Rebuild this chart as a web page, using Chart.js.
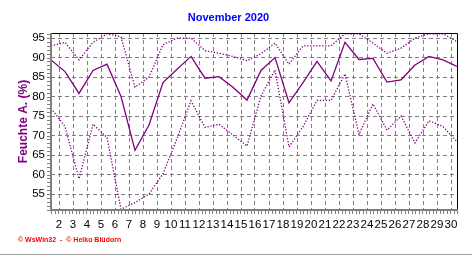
<!DOCTYPE html>
<html>
<head>
<meta charset="utf-8">
<script src="https://cdn.jsdelivr.net/npm/chart.js@4"></script>
<style>
  html, body { margin: 0; padding: 0; background: #fff; }
  #wrap { width: 472px; height: 255px; position: relative; }
</style>
</head>
<body>
<div id="wrap"><canvas id="humChart"></canvas></div>
<script>
var days = [1,2,3,4,5,6,7,8,9,10,11,12,13,14,15,16,17,18,19,20,21,22,23,24,25,26,27,28,29,30];
var meanHum = [89.4,86.4,80.8,86.7,88.3,80.0,66.2,72.7,83.6,87.0,90.3,84.7,85.1,82.4,79.1,86.7,90.0,78.4,83.6,89.0,84.0,93.9,89.5,89.8,83.7,84.3,88.1,90.3,89.4,87.7];
var maxHum = [93.0,93.9,89.4,93.9,96.1,95.3,82.4,85.0,93.3,95.0,95.0,91.8,91.1,90.3,89.2,91.0,93.7,88.3,93.0,93.0,93.0,96.1,96.1,93.7,91.1,92.4,95.0,96.1,96.1,94.1];
var minHum = [77.0,72.3,58.9,72.9,69.5,51.1,52.8,55.0,60.2,69.2,78.9,72.1,72.9,70.1,67.3,80.2,86.8,67.1,72.3,79.0,79.0,85.8,70.3,78.1,71.4,75.0,68.1,73.8,72.3,68.4];
var xTickLabels = ['2','3','4','5','6','7','8','9','10','11','12','13','14','15','16','17','18','19','20','21','22','23','24','25','26','27','28','29','30'];
var yTicks = [55,60,65,70,75,80,85,90,95];

var purple = '#800080';
var gridGray = '#808080';

function pts(arr) {
  return days.map(function (d, i) { return { x: d, y: arr[i] }; });
}

// frame, minor ticks and footer text
var framePlugin = {
  id: 'frame',
  afterDraw: function (chart) {
    var ctx = chart.ctx, a = chart.chartArea;
    var xs = chart.scales.x, ys = chart.scales.y;
    ctx.save();
    // black top / right
    ctx.strokeStyle = '#000';
    ctx.lineWidth = 1;
    ctx.beginPath();
    ctx.moveTo(a.left, a.top + 0.5);
    ctx.lineTo(a.right + 0.5, a.top + 0.5);
    ctx.lineTo(a.right + 0.5, a.bottom);
    ctx.stroke();
    // gray left / bottom
    ctx.strokeStyle = gridGray;
    ctx.lineWidth = 2;
    ctx.beginPath();
    ctx.moveTo(a.left, a.top);
    ctx.lineTo(a.left, a.bottom);
    ctx.lineTo(a.right + 1, a.bottom);
    ctx.stroke();
    // minor ticks
    ctx.lineWidth = 1;
    ctx.beginPath();
    for (var v = 51; v <= 96; v++) {
      var py = Math.round(ys.getPixelForValue(v)) + 0.5;
      ctx.moveTo(a.left - 4, py);
      ctx.lineTo(a.left, py);
    }
    for (var d = 1; d <= 30; d += 0.25) {
      var px = Math.round(xs.getPixelForValue(d)) + 0.5;
      ctx.moveTo(px, a.bottom);
      ctx.lineTo(px, a.bottom + 4);
    }
    ctx.stroke();
    // footer
    ctx.fillStyle = '#ff0000';
    ctx.font = 'bold 7px "Liberation Sans", Arial, sans-serif';
    ctx.textBaseline = 'middle';
    ctx.textAlign = 'left';
    ctx.fillText('\u00A9 WsWin32  -  \u00A9 Heiko Blüdorn', 18, 240);
    // bottom line
    ctx.strokeStyle = '#a0a0a0';
    ctx.beginPath();
    ctx.moveTo(0, 254.5);
    ctx.lineTo(472, 254.5);
    ctx.stroke();
    ctx.restore();
  }
};

var ctx = document.getElementById('humChart').getContext('2d');
var humChart = new Chart(ctx, {
  type: 'line',
  data: {
    datasets: [
      { label: 'Max', data: pts(maxHum), borderColor: purple, borderWidth: 1.3, borderDash: [1.3, 1.7], pointRadius: 0, tension: 0, fill: false },
      { label: 'Mittel', data: pts(meanHum), borderColor: purple, borderWidth: 1.3, pointRadius: 0, tension: 0, fill: false },
      { label: 'Min', data: pts(minHum), borderColor: purple, borderWidth: 1.3, borderDash: [1.3, 1.7], pointRadius: 0, tension: 0, fill: false }
    ]
  },
  options: {
    responsive: true,
    maintainAspectRatio: false,
    animation: false,
    layout: { padding: { left: 0, right: 15, top: 0, bottom: 0 } },
    scales: {
      x: {
        type: 'linear',
        min: 1,
        max: 30,
        afterBuildTicks: function (scale) {
          scale.ticks = xTickLabels.map(function (l, k) { return { value: 1 + 8 / 14 + k }; });
        },
        afterFit: function (scale) { scale.height = 45; },
        grid: { color: gridGray, lineWidth: 1, drawTicks: false },
        border: { display: false, dash: [4, 3] },
        ticks: {
          autoSkip: false,
          maxRotation: 0,
          padding: 8,
          color: '#000',
          font: { family: '"Liberation Sans", Arial, sans-serif', size: 11.5 },
          callback: function (v, i) { return xTickLabels[i]; }
        }
      },
      y: {
        min: 50.9,
        max: 96.3,
        afterBuildTicks: function (scale) {
          scale.ticks = yTicks.map(function (v) { return { value: v }; });
        },
        afterFit: function (scale) { scale.width = 51; },
        grid: { color: gridGray, lineWidth: 1, drawTicks: false },
        border: { display: false, dash: [4, 3] },
        ticks: {
          padding: 6,
          color: '#000',
          font: { family: '"Liberation Sans", Arial, sans-serif', size: 11.5 }
        },
        title: {
          display: true,
          text: 'Feuchte A. (%)',
          color: purple,
          padding: { top: 16, bottom: 0 },
          font: { family: '"Liberation Sans", Arial, sans-serif', size: 12, weight: 'bold' }
        }
      }
    },
    plugins: {
      legend: { display: false },
      tooltip: { enabled: false },
      title: {
        display: true,
        text: 'November 2020',
        color: '#0000ff',
        padding: { top: 11, bottom: 8.8 },
        font: { family: '"Liberation Sans", Arial, sans-serif', size: 11, weight: 'bold' }
      }
    }
  },
  plugins: [framePlugin]
});
</script>
</body>
</html>
